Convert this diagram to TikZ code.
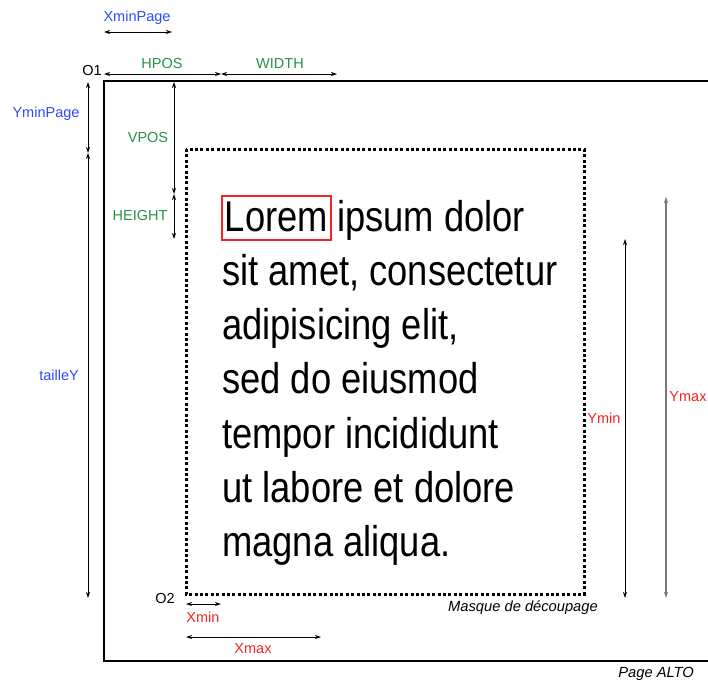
\documentclass[tikz,border=0pt]{standalone}
\usepackage{fontspec}
\setmainfont{Liberation Sans}
\newfontfamily\narrowsans[FakeStretch=0.845]{Liberation Sans}
\usetikzlibrary{arrows.meta}

\definecolor{dimblue}{RGB}{45,75,245}
\definecolor{dimgreen}{RGB}{40,145,70}
\definecolor{dimred}{RGB}{245,35,35}
\definecolor{dimgrey}{RGB}{120,120,120}

\begin{document}
\begin{tikzpicture}[x=1pt,y=-1pt,
  dimarrow/.style={{Stealth[length=6pt,width=4pt]}-{Stealth[length=6pt,width=4pt]}, line width=0.8pt},
  lbl/.style={font=\fontsize{14.5}{16}\selectfont, inner sep=0},
  caption/.style={font=\itshape\fontsize{14.7}{16}\selectfont, inner sep=0},
  bigtext/.style={font=\narrowsans\fontsize{43}{50}\selectfont, anchor=base west, inner sep=0},
  frame/.style={line width=1.8pt},
  mask/.style={line width=3pt, dash pattern=on 3pt off 2.4pt}]
\useasboundingbox (0,0) rectangle (708,682);

% ALTO page frame (runs off the right edge)
\draw[frame] (708,81) -- (104,81) -- (104,661) -- (708,661);
\node[caption, anchor=east] (pagealto) at (694,674) {Page ALTO};

% cutting mask
\draw[mask] (186,149) rectangle (584,594);
\node[caption] (masque) at (523,608) {Masque de découpage};

% origins
\node[lbl] (o1) at (92,71) {O1};
\node[lbl] (o2) at (165,598) {O2};

% reference points
\coordinate (xp0) at (104,32);  \coordinate (xp1) at (172,32);
\coordinate (h0) at (104,74);   \coordinate (h1) at (221,74);  \coordinate (w1) at (337,74);
\coordinate (yp0) at (88,82);   \coordinate (yp1) at (88,153); \coordinate (ty1) at (88,598);
\coordinate (v0) at (174,82);   \coordinate (v1) at (174,194); \coordinate (hg1) at (174,239);
\coordinate (xm0) at (186,604); \coordinate (xm1) at (221,604);
\coordinate (xx0) at (186,637); \coordinate (xx1) at (321,637);
\coordinate (ym0) at (625,239); \coordinate (ym1) at (625,598);
\coordinate (yx0) at (666,197); \coordinate (yx1) at (666,598);

% page offsets
\draw[dimarrow] (xp0) -- (xp1);
\node[lbl, text=dimblue] (xminpage) at (137,18) {XminPage};
\draw[dimarrow] (yp0) -- (yp1);
\node[lbl, text=dimblue] (yminpage) at (46,114) {YminPage};
\draw[dimarrow] (yp1) -- (ty1);
\node[lbl, text=dimblue] (tailley) at (59,375) {tailleY};

% string position and size
\draw[dimarrow] (h0) -- (h1);
\node[lbl, text=dimgreen] (hpos) at (162,64) {HPOS};
\draw[dimarrow] (h1) -- (w1);
\node[lbl, text=dimgreen] (width) at (280,64) {WIDTH};
\draw[dimarrow] (v0) -- (v1);
\node[lbl, text=dimgreen] (vpos) at (148,138) {VPOS};
\draw[dimarrow] (v1) -- (hg1);
\node[lbl, text=dimgreen] (height) at (140,216) {HEIGHT};

% mask coordinates
\draw[dimarrow] (xm0) -- (xm1);
\node[lbl, text=dimred] (xmin) at (203,617) {Xmin};
\draw[dimarrow] (xx0) -- (xx1);
\node[lbl, text=dimred] (xmax) at (253,649) {Xmax};
\draw[dimarrow] (ym0) -- (ym1);
\node[lbl, text=dimred] (ymin) at (604,418) {Ymin};
\draw[dimarrow, dimgrey, line width=1.2pt] (yx0) -- (yx1);
\node[lbl, text=dimred] (ymax) at (688,397) {Ymax};

% text block
\node[bigtext, draw=dimred, line width=1.8pt, inner xsep=3pt, inner ysep=2pt,
      text height=33pt, text depth=7pt] (lorem) at (221,231) {Lorem};
\node[bigtext] (l1) at (337,231) {ipsum dolor};
\node[bigtext] (l2) at (222,285.3) {sit amet, consectetur};
\node[bigtext] (l3) at (222,339.6) {adipisicing elit,};
\node[bigtext] (l4) at (222,393.9) {sed do eiusmod};
\node[bigtext] (l5) at (222,448.2) {tempor incididunt};
\node[bigtext] (l6) at (222,502.5) {ut labore et dolore};
\node[bigtext] (l7) at (222,556.8) {magna aliqua.};
\end{tikzpicture}
\end{document}
